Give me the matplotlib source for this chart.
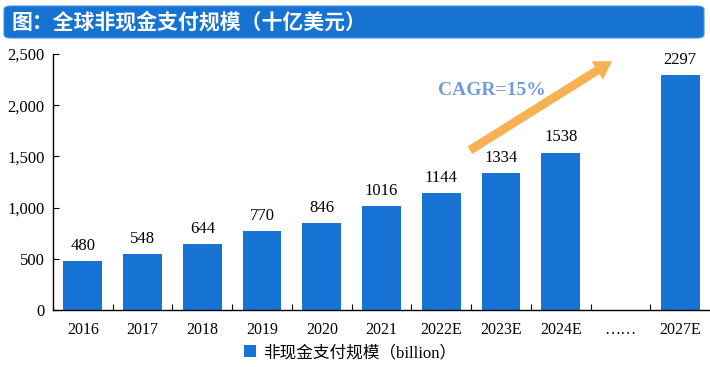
import matplotlib.pyplot as plt
from matplotlib.patches import FancyBboxPatch

categories = ['2016', '2017', '2018', '2019', '2020', '2021', '2022E', '2023E', '2024E', '……', '2027E']
values = [480, 548, 644, 770, 846, 1016, 1144, 1334, 1538, None, 2297]
yticks = [0, 500, 1000, 1500, 2000, 2500]
title = '图：全球非现金支付规模（十亿美元）'
legend_label = '非现金支付规模（billion）'

bar_color = '#1874d4'
serif = ['Liberation Serif', 'DejaVu Serif']
cjk = ['Noto Sans CJK SC', 'DejaVu Sans']

fig = plt.figure(figsize=(7.1, 3.67), dpi=100)
W, H = 710, 367

# title banner
fig.patches.append(FancyBboxPatch((4 / W, (H - 38) / H), 700 / W, 32 / H,
                                  boxstyle='round,pad=0,rounding_size=0.01',
                                  transform=fig.transFigure, facecolor='#1673d1',
                                  edgecolor='#4a90e0', linewidth=0.8))
fig.text(12 / W, (H - 22) / H, title, color='white', fontsize=15, fontweight='bold',
         family=cjk, va='center', ha='left')

ax = fig.add_axes([53 / W, (H - 310) / H, (710 - 53) / W, 256 / H])
x = list(range(len(categories)))
xs = [i for i, v in zip(x, values) if v is not None]
vs = [v for v in values if v is not None]
bars = ax.bar(xs, vs, width=0.65, color=bar_color, label=legend_label)
for xi, v in zip(xs, vs):
    ax.text(xi, v + 70, str(v), ha='center', va='bottom', fontsize=12, family=serif)

ax.set_xlim(-0.5, len(categories) - 0.5)
ax.set_ylim(0, 2500)
ax.set_yticks(yticks)
ax.set_yticklabels([f'{t:,}' for t in yticks], family=serif, fontsize=12)
ax.set_xticks(x)
ax.set_xticklabels(categories, family=serif, fontsize=11.5)
ax.set_xticks([i + 0.5 for i in x[:-1]], minor=True)
ax.tick_params(axis='x', which='major', length=0, pad=9)
ax.tick_params(axis='x', which='minor', direction='in', length=4, width=0.8)
ax.tick_params(axis='y', direction='in', length=4, width=0.8, pad=6)
for s in ['top', 'right']:
    ax.spines[s].set_visible(False)
for s in ['left', 'bottom']:
    ax.spines[s].set_linewidth(1.0)

# CAGR arrow
ax.annotate('', xy=(8.86, 2430), xytext=(6.48, 1560),
            arrowprops=dict(arrowstyle='simple,head_length=0.9,head_width=1.1,tail_width=0.45',
                            mutation_scale=14, color='#f7b052', lw=0, shrinkA=0, shrinkB=0))
ax.text(6.85, 2148, 'CAGR=15%', ha='center', va='center', fontsize=14, fontweight='bold',
        color='#6f9bd8', family=serif)

fig.legend(handles=[bars], labels=[legend_label], loc='center',
           bbox_to_anchor=(350 / W, (H - 353) / H), frameon=False,
           prop={'family': ['Liberation Serif', 'Noto Sans CJK SC'], 'size': 12},
           handlelength=0.7, handleheight=0.7, handletextpad=0.4)

fig.savefig('out.png', dpi=100)
